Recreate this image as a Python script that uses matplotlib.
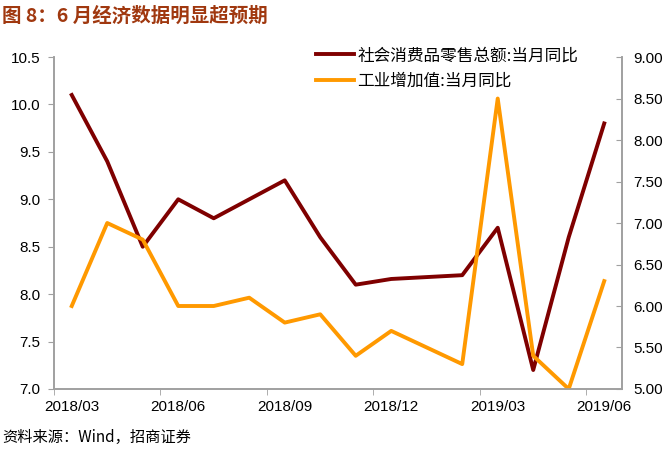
import matplotlib
matplotlib.use("Agg")
import matplotlib.pyplot as plt
import numpy as np

plt.rcParams['font.family'] = ['Liberation Sans', 'Noto Sans CJK SC', 'DejaVu Sans']

# monthly index, 2018/03 = 0 ; 2019/01 has no data (Jan-Feb combined)
months = ['2018/03', '2018/04', '2018/05', '2018/06', '2018/07', '2018/08',
          '2018/09', '2018/10', '2018/11', '2018/12', '2019/01', '2019/02',
          '2019/03', '2019/04', '2019/05', '2019/06']
retail = [10.1, 9.4, 8.5, 9.0, 8.8, 9.0, 9.2, 8.6, 8.1, 8.16, np.nan, 8.2,
          8.7, 7.2, 8.6, 9.8]
industry = [6.0, 7.0, 6.8, 6.0, 6.0, 6.1, 5.8, 5.9, 5.4, 5.7, np.nan, 5.3,
            8.5, 5.4, 5.0, 6.3]
label_retail = '社会消费品零售总额:当月同比'
label_industry = '工业增加值:当月同比'

x = np.arange(len(months))
ok = ~np.isnan(np.array(retail))

fig = plt.figure(figsize=(6.69, 4.51), dpi=100)
ax = fig.add_axes([0.0807, 0.1375, 0.849, 0.736])
ax2 = ax.twinx()

l1, = ax.plot(x[ok], np.array(retail)[ok], color='#7F0000', lw=2.8, label=label_retail)
l2, = ax2.plot(x[ok], np.array(industry)[ok], color='#FF9900', lw=2.8, label=label_industry)

ax.set_xlim(-0.5, 15.5)
ax.set_ylim(7.0, 10.5)
ax2.set_ylim(5.0, 9.0)
ax.set_yticks(np.arange(7.0, 10.51, 0.5))
ax.set_yticklabels(['%.1f' % v for v in np.arange(7.0, 10.51, 0.5)])
ax2.set_yticks(np.arange(5.0, 9.01, 0.5))
ax2.set_yticklabels(['%.2f' % v for v in np.arange(5.0, 9.01, 0.5)])

ax.set_xticks(x[::3])
ax.set_xticklabels(months[::3])
ax.set_xticks(np.arange(-0.5, 15.6, 3), minor=True)
ax.tick_params(axis='x', which='major', length=0, pad=8, labelsize=11)
ax.tick_params(axis='x', which='minor', length=4, color='#A0A0A0', direction='out')
ax.tick_params(axis='y', length=4, color='#A0A0A0', labelsize=11, pad=6)
ax2.tick_params(axis='y', length=4, color='#A0A0A0', labelsize=11, direction='in', pad=8)

for a in (ax, ax2):
    a.spines['top'].set_visible(False)
    for s in ('left', 'right', 'bottom'):
        a.spines[s].set_color('#A0A0A0')
        a.spines[s].set_linewidth(1.2)

fig.legend(handles=[l1, l2], loc='upper left', bbox_to_anchor=(0.462, 0.91),
           frameon=False, handlelength=2.3, handletextpad=0.2,
           labelspacing=0.5, borderaxespad=0,
           prop={'family': ['Noto Sans CJK SC', 'DejaVu Sans'], 'size': 12})

fig.text(0.003, 0.985, '图 8：6 月经济数据明显超预期', color='#A0380F', fontsize=14,
         fontweight='bold', va='top', ha='left', family=['Noto Sans CJK SC', 'DejaVu Sans'])
fig.text(0.003, 0.012, '资料来源：Wind，招商证券', color='black', fontsize=11,
         va='bottom', ha='left', family=['Noto Sans CJK SC', 'DejaVu Sans'])

fig.savefig('out.png', dpi=100)
plt.close(fig)
